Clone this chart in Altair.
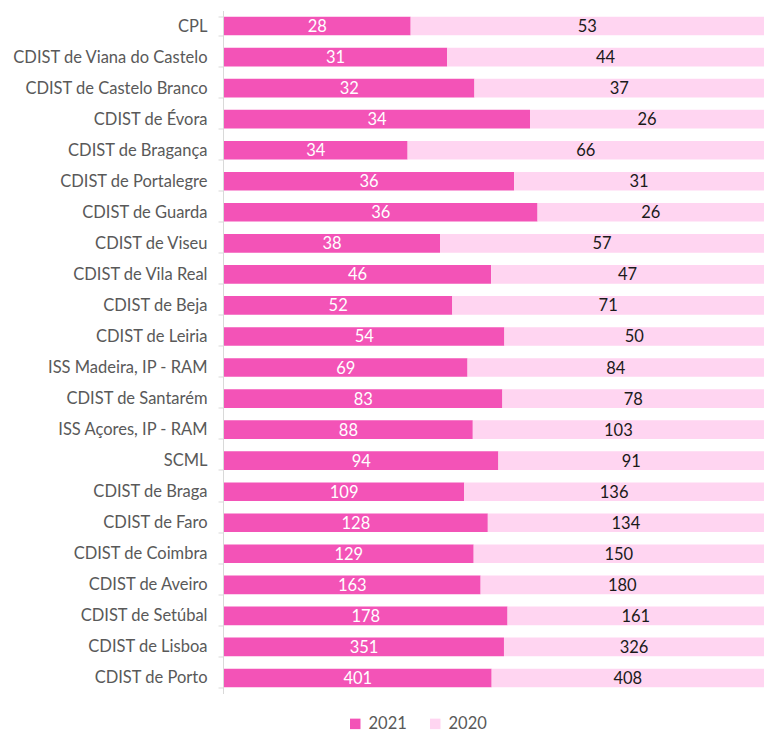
import altair as alt
import pandas as pd

categories = ["CPL", "CDIST de Viana do Castelo", "CDIST de Castelo Branco", "CDIST de Évora",
              "CDIST de Bragança", "CDIST de Portalegre", "CDIST de Guarda", "CDIST de Viseu",
              "CDIST de Vila Real", "CDIST de Beja", "CDIST de Leiria", "ISS Madeira, IP - RAM",
              "CDIST de Santarém", "ISS Açores, IP - RAM", "SCML", "CDIST de Braga",
              "CDIST de Faro", "CDIST de Coimbra", "CDIST de Aveiro", "CDIST de Setúbal",
              "CDIST de Lisboa", "CDIST de Porto"]
v2021 = [28, 31, 32, 34, 34, 36, 36, 38, 46, 52, 54, 69, 83, 88, 94, 109, 128, 129, 163, 178, 351, 401]
v2020 = [53, 44, 37, 26, 66, 31, 26, 57, 47, 71, 50, 84, 78, 103, 91, 136, 134, 150, 180, 161, 326, 408]
years = ["2021", "2020"]
colors = ["#F353B7", "#FFD5F1"]

rows = []
for c, a, b in zip(categories, v2021, v2020):
    rows.append({"cat": c, "year": "2021", "value": a, "ord": 0})
    rows.append({"cat": c, "year": "2020", "value": b, "ord": 1})
df = pd.DataFrame(rows)

FONT = "Lato"
FS = 16.5

base = alt.Chart(df).transform_stack(
    stack="value", as_=["x0", "x1"], groupby=["cat"], offset="normalize",
    sort=[alt.SortField("ord", order="ascending")]
).transform_calculate(xm="(datum.x0 + datum.x1) / 2")

y = alt.Y("cat:N", sort=categories, title=None,
          scale=alt.Scale(paddingInner=0.4, paddingOuter=0.2),
          axis=alt.Axis(tickBand="extent", domainColor="#d9d9d9", tickColor="#d9d9d9",
                        tickSize=5, offset=1, labelFont=FONT, labelFontSize=FS,
                        labelColor="#595959", labelPadding=11, labelLimit=0, grid=False))

bars = base.mark_bar().encode(
    y=y,
    x=alt.X("x0:Q", scale=alt.Scale(domain=[0, 1], nice=False, zero=False), axis=None),
    x2="x1:Q",
    color=alt.Color("year:N", scale=alt.Scale(domain=years, range=colors), sort=years,
                    legend=alt.Legend(title=None, orient="none", direction="horizontal",
                                      legendX=123, legendY=705, symbolType="square",
                                      symbolSize=110, symbolStrokeWidth=0, labelFont=FONT,
                                      labelFontSize=FS, labelColor="#595959",
                                      columnPadding=20, labelOffset=5)),
)

text = base.mark_text(font=FONT, fontSize=FS, baseline="middle", dy=1).encode(
    y=alt.Y("cat:N", sort=categories),
    x=alt.X("xm:Q"),
    text="value:Q",
    fill=alt.condition("datum.year == '2021'", alt.value("white"), alt.value("#1a1a1a")),
)

chart = (bars + text).properties(
    width=540, height=683,
    autosize=alt.AutoSizeParams(type="none"),
    padding={"left": 216, "top": 2.5, "right": 0, "bottom": 38.5},
).configure_view(stroke=None)

chart.save("out.html", embed_options={"renderer": "svg", "actions": False})
